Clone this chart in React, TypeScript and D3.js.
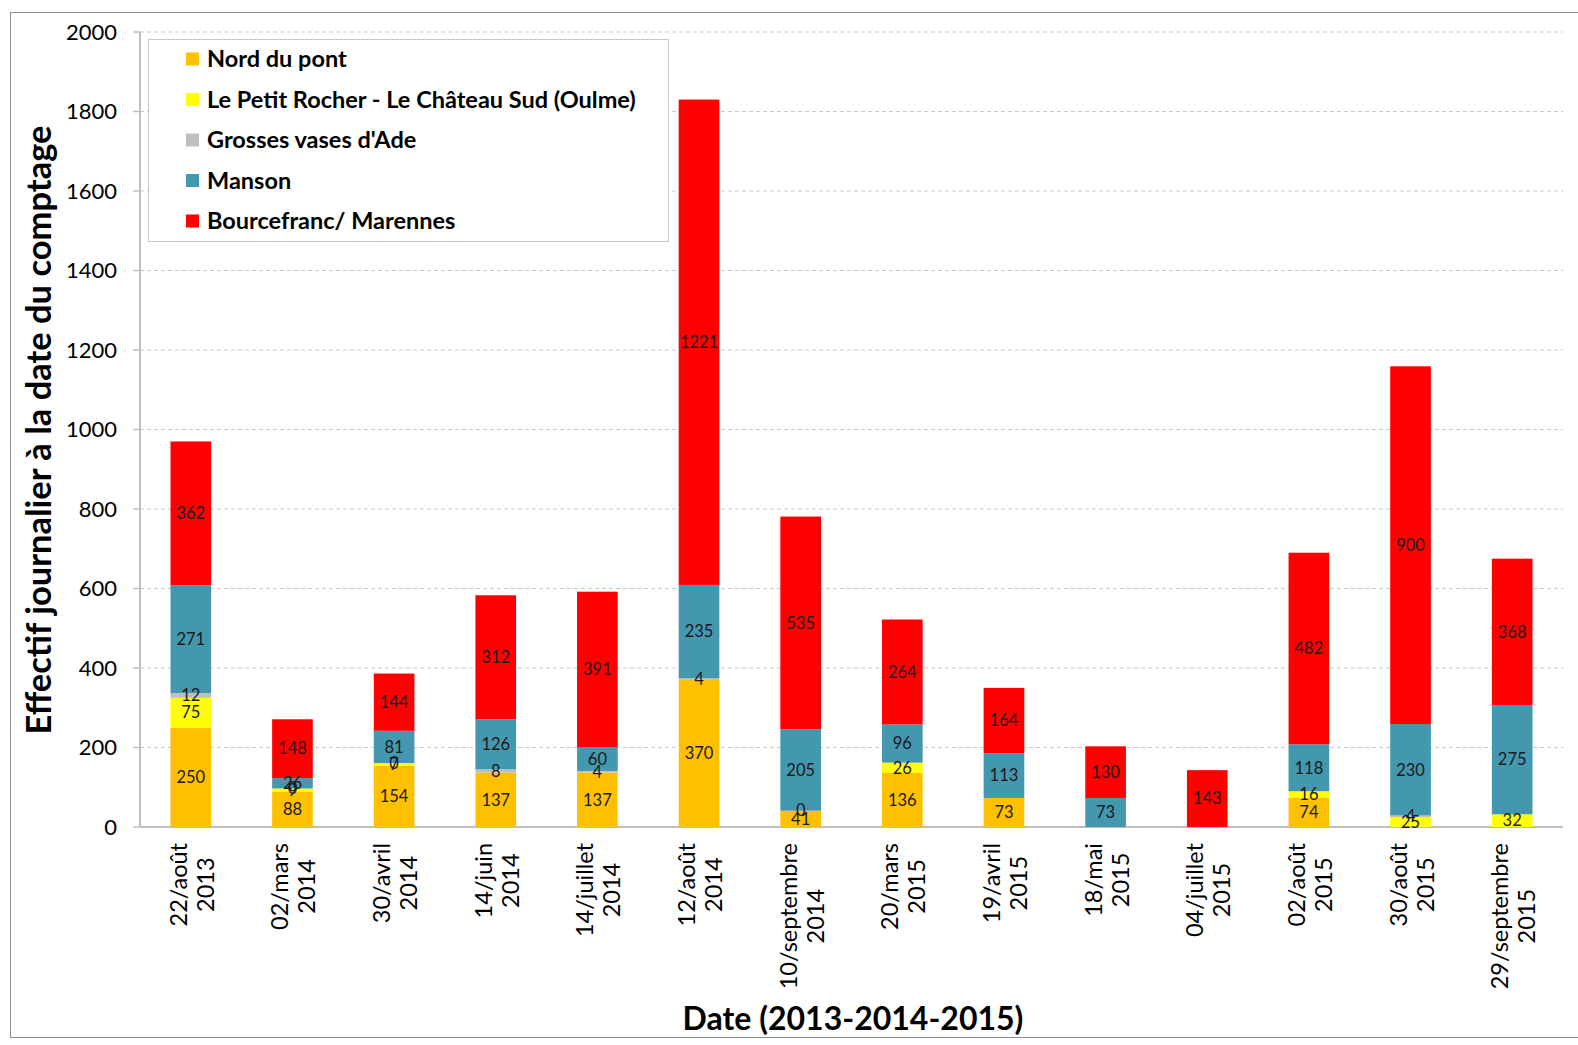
import React from "react";
import * as d3 from "d3";

const categories = [
  ["22/août", "2013"],
  ["02/mars", "2014"],
  ["30/avril", "2014"],
  ["14/juin", "2014"],
  ["14/juillet", "2014"],
  ["12/août", "2014"],
  ["10/septembre", "2014"],
  ["20/mars", "2015"],
  ["19/avril", "2015"],
  ["18/mai", "2015"],
  ["04/juillet", "2015"],
  ["02/août", "2015"],
  ["30/août", "2015"],
  ["29/septembre", "2015"],
];

const seriesNames = [
  "Nord du pont",
  "Le Petit Rocher - Le Château Sud (Oulme)",
  "Grosses vases d'Ade",
  "Manson",
  "Bourcefranc/ Marennes",
];
const seriesColors = ["#FFC000", "#FFFF00", "#BFBFBF", "#4397AE", "#FF0000"];

const nordDuPont = [250, 88, 154, 137, 137, 370, 41, 136, 73, null, null, 74, null, null];
const petitRocher = [75, 9, 7, null, null, null, 0, 26, null, null, null, 16, 25, 32];
const grossesVases = [12, 0, 0, 8, 4, 4, null, null, null, null, null, null, 4, null];
const manson = [271, 26, 81, 126, 60, 235, 205, 96, 113, 73, null, 118, 230, 275];
const bourcefranc = [362, 148, 144, 312, 391, 1221, 535, 264, 164, 130, 143, 482, 900, 368];

const yTicks = [0, 200, 400, 600, 800, 1000, 1200, 1400, 1600, 1800, 2000];

const FONT = "Lato, 'Open Sans', sans-serif";

let measureCtx: CanvasRenderingContext2D | null = null;
function measure(text: string, font: string) {
  if (!measureCtx) {
    const c = document.createElement("canvas");
    measureCtx = c.getContext("2d");
  }
  if (!measureCtx) return text.length * 12;
  measureCtx.font = font;
  return measureCtx.measureText(text).width;
}

export default function App() {
  const W = 1578;
  const H = 1045;
  const left = 140;
  const right = 1563;
  const top = 32;
  const bottom = 827;

  const allSeries = [nordDuPont, petitRocher, grossesVases, manson, bourcefranc];

  const x = d3
    .scaleBand<number>()
    .domain(categories.map((_, i) => i))
    .range([left, right])
    .paddingInner(0.6)
    .paddingOuter(0.3);
  const y = d3.scaleLinear().domain([0, 2000]).range([bottom, top]);

  const rows = categories.map((_, i) => {
    const r: any = { i };
    allSeries.forEach((s, k) => (r["s" + k] = s[i] ?? 0));
    return r;
  });
  const stack = d3.stack<any>().keys(allSeries.map((_, k) => "s" + k));
  const stacked = stack(rows);

  const tickSize = 23.5;
  const tickFont = `${tickSize}px ${FONT}`;

  return (
    <svg
      width={W}
      height={H}
      style={{ position: "absolute", left: 0, top: 0, background: "#fff" }}
      fontFamily={FONT}
    >
      <rect x={10.5} y={12.5} width={1570} height={1025} fill="#fff" stroke="#8c8c8c" strokeWidth={1} />
      {yTicks.map((t) =>
        t === 0 ? null : (
          <line
            key={"g" + t}
            x1={left}
            x2={right}
            y1={y(t)}
            y2={y(t)}
            stroke="#c9c9c9"
            strokeWidth={1}
            strokeDasharray="4,3"
          />
        )
      )}
      <line x1={left} x2={left} y1={top} y2={bottom} stroke="#bfbfbf" strokeWidth={2} />
      <line x1={left} x2={right} y1={bottom} y2={bottom} stroke="#bfbfbf" strokeWidth={2} />
      {yTicks.map((t) => (
        <g key={"t" + t}>
          <line x1={left - 7} x2={left} y1={y(t)} y2={y(t)} stroke="#bfbfbf" strokeWidth={1.5} />
          <text x={117} y={y(t)} dy="0.35em" textAnchor="end" fontSize={22} fill="#000">
            {t}
          </text>
        </g>
      ))}
      {stacked.map((layer, k) => (
        <g key={"l" + k}>
          {layer.map((d, i) => {
            const v = allSeries[k][i];
            if (v === null || v === 0) return null;
            return (
              <rect
                key={i}
                x={x(i)}
                width={x.bandwidth()}
                y={y(d[1])}
                height={y(d[0]) - y(d[1])}
                fill={seriesColors[k]}
              />
            );
          })}
        </g>
      ))}
      {stacked.map((layer, k) => (
        <g key={"lb" + k}>
          {layer.map((d, i) => {
            const v = allSeries[k][i];
            if (v === null) return null;
            return (
              <text
                key={i}
                x={(x(i) as number) + x.bandwidth() / 2}
                y={y((d[0] + d[1]) / 2)}
                dy="0.35em"
                textAnchor="middle"
                fontSize={16.5}
                fill="#1a1a1a"
              >
                {v}
              </text>
            );
          })}
        </g>
      ))}
      {categories.map((lines, i) => {
        const cx = (x(i) as number) + x.bandwidth() / 2;
        const maxLen = Math.max(...lines.map((l) => measure(l, tickFont)));
        const cy = 843 + maxLen / 2;
        return (
          <text
            key={"x" + i}
            transform={`translate(${cx},${cy}) rotate(-90)`}
            textAnchor="middle"
            fontSize={tickSize}
            fill="#000"
          >
            <tspan x={0} y={-4}>
              {lines[0]}
            </tspan>
            <tspan x={0} y={23}>
              {lines[1]}
            </tspan>
          </text>
        );
      })}
      <text
        transform={`translate(51,430) rotate(-90)`}
        textAnchor="middle"
        fontSize={34.5}
        fontWeight="bold"
        fill="#000"
      >
        Effectif journalier à la date du comptage
      </text>
      <text x={853} y={1030} textAnchor="middle" fontSize={32} fontWeight="bold" fill="#000">
        Date (2013-2014-2015)
      </text>
      <rect x={148.5} y={39.5} width={520} height={202} fill="#fff" stroke="#c8c8c8" strokeWidth={1} />
      {seriesNames.map((name, k) => {
        const ly = 59 + k * 40.5;
        return (
          <g key={"lg" + k}>
            <rect x={186} y={ly - 6.5} width={13} height={13} fill={seriesColors[k]} />
            <text x={207} y={ly} dy="0.35em" fontSize={23.5} fontWeight="bold" fill="#000">
              {name}
            </text>
          </g>
        );
      })}
    </svg>
  );
}
